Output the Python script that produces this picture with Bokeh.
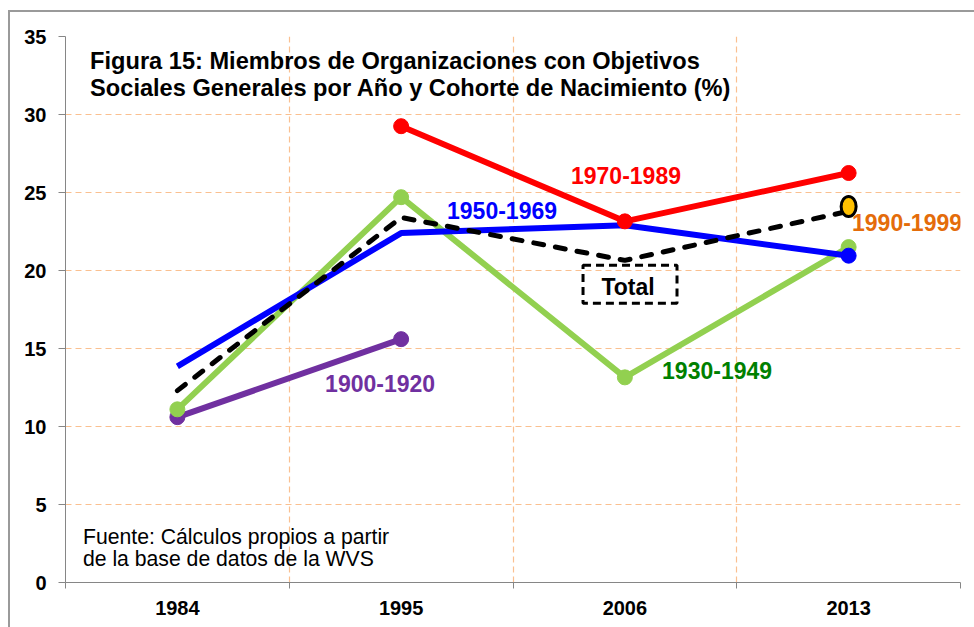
from bokeh.plotting import figure
from bokeh.models import Range1d, FixedTicker, Label, BoxAnnotation
from bokeh.embed import file_html
from bokeh.resources import INLINE

nan = float("nan")

# ---- data ----
years = ["1984", "1995", "2006", "2013"]
c1970_1989 = [nan, 29.25, 23.15, 26.25]
c1950_1969 = [13.85, 22.4, 22.9, 20.95]
c1930_1949 = [11.1, 24.7, 13.15, 21.5]
c1900_1920 = [10.6, 15.6, nan, nan]
total = [12.3, 23.4, 20.65, 23.8]
c1990_1999 = [nan, nan, nan, 24.1]
y_ticks = [0, 5, 10, 15, 20, 25, 30, 35]

title_lines = ["Figura 15: Miembros de Organizaciones con Objetivos",
               "Sociales Generales por Año y Cohorte de Nacimiento (%)"]
source_lines = ["Fuente: Cálculos propios a partir",
                "de la base de datos de la WVS"]

xs = list(range(len(years)))
FONT = "Liberation Sans"

p = figure(width=974, height=627, output_backend="svg", toolbar_location=None,
           x_range=Range1d(-0.5, len(years) - 0.5), y_range=Range1d(0, 35),
           min_border_left=65, min_border_right=14, min_border_top=36, min_border_bottom=45,
           background_fill_color=None, border_fill_color=None)
p.outline_line_color = None

# outer chart-area frame (only top and left edges visible), drawn behind the transparent canvas
frame_col = "linear-gradient(#9a9a9a, #9a9a9a)"
p.styles = {
    "background-color": "white",
    "background-image": frame_col + ", " + frame_col,
    "background-repeat": "no-repeat, no-repeat",
    "background-position": "8px 10px, 8px 10px",
    "background-size": "2px 100%, 100% 2px",
}

# axes
axis_col = "#868686"
p.xaxis.ticker = FixedTicker(ticks=xs, minor_ticks=[x + 0.5 for x in [-1] + xs])
p.xaxis.major_label_overrides = {x: y for x, y in zip(xs, years)}
p.xaxis.major_tick_out = 0
p.xaxis.major_tick_in = 0
p.xaxis.minor_tick_out = 6
p.xaxis.minor_tick_in = 0
p.xaxis.minor_tick_line_color = axis_col
p.xaxis.major_label_standoff = 12
p.yaxis.ticker = FixedTicker(ticks=y_ticks)
p.yaxis.major_tick_out = 7
p.yaxis.major_tick_in = 0
p.yaxis.minor_tick_line_color = None
p.yaxis.major_label_standoff = 12
for ax in (p.xaxis[0], p.yaxis[0]):
    ax.axis_line_color = axis_col
    ax.major_tick_line_color = axis_col
    ax.major_label_text_font = FONT
    ax.major_label_text_font_style = "bold"
    ax.major_label_text_font_size = "20px"
    ax.major_label_text_color = "black"

grid_col = "#FAC090"
p.xgrid.ticker = FixedTicker(ticks=[x + 0.5 for x in xs])
p.ygrid.ticker = FixedTicker(ticks=y_ticks[1:])
for g in (p.xgrid[0], p.ygrid[0]):
    g.grid_line_color = grid_col
    g.grid_line_dash = "6 4"
    g.grid_line_width = 1.2

# series
LW = 6
MS = 15
p.line(xs, c1900_1920, line_color="#7030A0", line_width=LW)
p.scatter(xs[:2], c1900_1920[:2], size=MS, color="#7030A0")

p.line(xs, c1930_1949, line_color="#92D050", line_width=LW)
p.scatter(xs, c1930_1949, size=MS, color="#92D050")

p.line(xs, c1950_1969, line_color="#0000FF", line_width=LW)
p.scatter(xs[3:], c1950_1969[3:], size=MS, color="#0000FF")

p.line(xs, c1970_1989, line_color="#FF0000", line_width=LW)
p.scatter(xs[1:], c1970_1989[1:], size=MS, color="#FF0000")

p.line(xs, total, line_color="black", line_width=5, line_dash="10 12", line_cap="round")

p.ellipse(xs[3:], c1990_1999[3:], width=15, height=20, width_units="screen",
          height_units="screen", fill_color="#FFC000", line_color="black", line_width=3)

# series labels
def lab(x, y, text, color, size="23px", bold=True, align="center"):
    p.add_layout(Label(x=x, y=y, text=text, text_color=color, text_font=FONT,
                       text_font_style="bold" if bold else "normal", text_font_size=size,
                       text_align=align, text_baseline="middle"))

lab(2.005, 26.1, "1970-1989", "#FF0000")
lab(3.261, 23.06, "1990-1999", "#E46C0A")
lab(1.451, 23.82, "1950-1969", "#0000FF")
lab(0.906, 12.74, "1900-1920", "#7030A0")
lab(2.412, 13.61, "1930-1949", "#008000")
lab(2.014, 18.93, "Total", "black")
p.add_layout(BoxAnnotation(left=1.813, right=2.233, bottom=17.9, top=20.33,
                           fill_color=None, line_color="black", line_alpha=1,
                           line_width=3, line_dash="8 5"))

# title and source note
for i, t in enumerate(title_lines):
    lab(-0.39, 33.4 - i * 1.67, t, "black", size="23.6px", align="left")
for i, t in enumerate(source_lines):
    lab(-0.422, 2.98 - i * 1.44, t, "black", size="21.2px", bold=False, align="left")

open("out.html", "w").write(file_html(p, INLINE))
